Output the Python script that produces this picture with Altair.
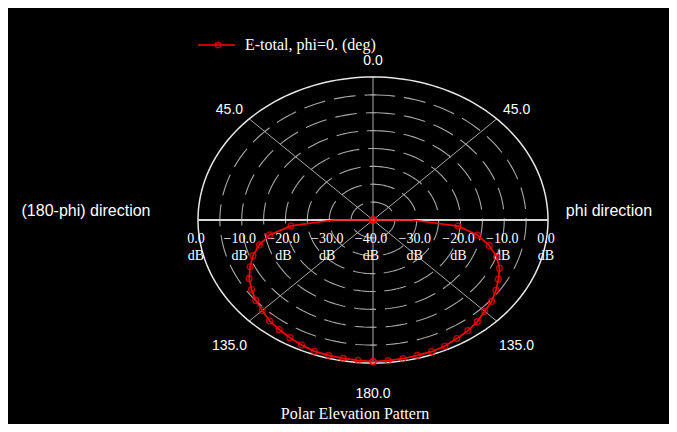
import altair as alt
import pandas as pd
import numpy as np

# ---------------- data ----------------
curve_theta = [0, 30, 60, 85, 90, 95, 100, 105, 110, 115, 120, 125, 130, 135,
               140, 145, 150, 155, 160, 165, 170, 175, 180]
right_db = [-40, -40, -40, -40, -31, -20.5, -15.8, -12.5, -9.9, -8.1, -6.9, -5.7,
            -4.6, -3.9, -2.9, -2.2, -1.7, -1.1, -0.8, -0.8, -0.6, -0.5, -0.4]
left_db = [-40, -40, -40, -40, -31, -21.2, -16.0, -13.1, -10.8, -9.0, -7.3, -6.1,
           -5.0, -4.2, -3.2, -2.6, -2.0, -1.4, -0.9, -0.8, -0.7, -0.6, -0.4]

db_floor = -40
ring_db = [-35, -30, -25, -20, -15, -10, -5, 0]
spoke_angles = [0, 45, 90, 135, 180, 225, 270, 315]

angle_label_theta = [0, 45, -45, 135, -135, 180]
angle_label_text = ["0.0", "45.0", "45.0", "135.0", "135.0", "180.0"]

db_label_value = [0, -10, -20, -30, -40, -30, -20, -10, 0]
db_label_side = [-1, -1, -1, -1, 0, 1, 1, 1, 1]

legend_label = ["E-total, phi=0. (deg)"]
title_text = ["Polar Elevation Pattern"]
left_dir_text = ["(180-phi) direction"]
right_dir_text = ["phi direction"]

# ---------------- tables ----------------
rows = []
n = len(curve_theta)
for i, (t, d) in enumerate(zip(curve_theta, right_db)):
    rows.append(dict(seq=i, theta=t, db=d, side=1))
for j, (t, d) in enumerate(reversed(list(zip(curve_theta, left_db)))):
    rows.append(dict(seq=n + j, theta=t, db=d, side=-1))
curve_df = pd.DataFrame(rows)

ring_angles = np.arange(0, 362, 2)
ring_df = pd.DataFrame([dict(level=l, ang=a) for l in ring_db for a in ring_angles])

spoke_df = pd.DataFrame([dict(ang=a, rr=rr) for a in spoke_angles for rr in (0.0, 1.0)])

cross_df = pd.DataFrame([dict(level=l, s=s) for l in ring_db for s in (1, -1)])

alabel_df = pd.DataFrame(dict(theta=angle_label_theta, label=angle_label_text))
dblabel_df = pd.DataFrame(dict(v=db_label_value, side=db_label_side))

GRID = "#a8a8a8"
RED = "#ff0000"

X = alt.X("x:Q", scale=alt.Scale(domain=[-2.08571, 1.69143], nice=False, zero=False), axis=None)
Y = alt.Y("y:Q", scale=alt.Scale(domain=[-1.42657, 1.48252], nice=False, zero=False), axis=None)

R_EXPR = f"(datum.level - ({db_floor})) / {-db_floor}"

rings = alt.Chart(ring_df).transform_calculate(
    r=R_EXPR
).transform_calculate(
    x="datum.r * sin(datum.ang * PI / 180)",
    y="datum.r * cos(datum.ang * PI / 180)",
)
rings_dashed = rings.transform_filter("datum.level < 0").mark_line(
    color=GRID, strokeWidth=1.1, strokeDash=[22, 9]
).encode(x=X, y=Y, detail="level:N", order="ang:Q")
ring_outer = rings.transform_filter("datum.level == 0").mark_line(
    color="#e6e6e6", strokeWidth=1.5
).encode(x=X, y=Y, detail="level:N", order="ang:Q")

spokes = alt.Chart(spoke_df).transform_calculate(
    x="datum.rr * sin(datum.ang * PI / 180)",
    y="datum.rr * cos(datum.ang * PI / 180)",
)
spokes_grey = spokes.transform_filter("datum.ang != 90 && datum.ang != 270").mark_line(
    color=GRID, strokeWidth=1
).encode(x=X, y=Y, detail="ang:N", order="rr:Q")
spokes_horiz = spokes.transform_filter("datum.ang == 90 || datum.ang == 270").mark_line(
    color="#d8d8d8", strokeWidth=2
).encode(x=X, y=Y, detail="ang:N", order="rr:Q")

crossbars = alt.Chart(cross_df).transform_calculate(
    r=R_EXPR
).transform_calculate(
    x="0", y="datum.s * datum.r"
).mark_point(shape="M-1,0L1,0", size=30, color=GRID, strokeWidth=1, filled=False).encode(x=X, y=Y)

curve = alt.Chart(curve_df).transform_calculate(
    r=f"(datum.db - ({db_floor})) / {-db_floor}"
).transform_calculate(
    x="datum.side * datum.r * sin(datum.theta * PI / 180)",
    y="datum.r * cos(datum.theta * PI / 180)",
)
curve_line = curve.mark_line(color=RED, strokeWidth=1.7).encode(x=X, y=Y, order="seq:Q")
curve_pts = curve.transform_filter("datum.theta != 90").mark_point(
    shape="circle", size=34, color=RED, strokeWidth=1.4, filled=False
).encode(x=X, y=Y)

alabels = alt.Chart(alabel_df).transform_calculate(
    x="datum.theta == 0 || datum.theta == 180 ? 0 : 1.16 * sin(datum.theta * PI / 180)",
    y="datum.theta == 0 ? 1.11 : (datum.theta == 180 ? -1.22 : (abs(datum.theta) <= 90 ? 1.09 * 0.7071 : -1.245 * 0.7071))",
).mark_text(font="Liberation Sans", fontSize=14, color="white", align="center", baseline="middle").encode(
    x=X, y=Y, text="label:N"
)

dbl = alt.Chart(dblabel_df).transform_calculate(
    x=f"datum.side * (datum.v - ({db_floor})) / {-db_floor}",
    y="0",
    txt="format(datum.v, '.1f')",
)
dbl_num = dbl.mark_text(font="Liberation Serif", fontSize=14, color="white", align="center",
                        baseline="middle", dy=19, dx=-2).encode(x=X, y=Y, text="txt:N")
dbl_unit = dbl.mark_text(font="Liberation Serif", fontSize=14, color="white", align="center",
                         baseline="middle", dy=36, dx=-2).encode(x=X, y=Y, text=alt.value("dB"))

one = alt.Data(values=[{"k": 0}])
legend_line = alt.Chart(one).mark_rule(color=RED, strokeWidth=1.6).encode(
    x=alt.value(190), x2=alt.value(227), y=alt.value(37))
legend_pt = alt.Chart(one).mark_point(shape="circle", size=30, color=RED, strokeWidth=1.3,
                                      filled=False).encode(x=alt.value(210), y=alt.value(37))
legend_txt = alt.Chart(pd.DataFrame(dict(t=legend_label))).mark_text(
    font="Liberation Serif", fontSize=16, color="white", align="left", baseline="middle"
).encode(x=alt.value(237), y=alt.value(37), text="t:N")

title_mark = alt.Chart(pd.DataFrame(dict(t=title_text))).mark_text(
    font="Liberation Serif", fontSize=16, color="white", align="center", baseline="middle"
).encode(x=alt.value(347), y=alt.value(406), text="t:N")

left_dir = alt.Chart(pd.DataFrame(dict(t=left_dir_text))).mark_text(
    font="Liberation Sans", fontSize=16, color="white", align="center", baseline="middle"
).encode(x=alt.value(78), y=alt.value(203), text="t:N")
right_dir = alt.Chart(pd.DataFrame(dict(t=right_dir_text))).mark_text(
    font="Liberation Sans", fontSize=16, color="white", align="center", baseline="middle"
).encode(x=alt.value(601), y=alt.value(203), text="t:N")

chart = alt.layer(
    rings_dashed, spokes_grey, crossbars, ring_outer, spokes_horiz,
    alabels, dbl_num, dbl_unit,
    curve_line, curve_pts,
    legend_line, legend_pt, legend_txt, title_mark, left_dir, right_dir,
).properties(
    width=661, height=416, padding=0, autosize=alt.AutoSizeParams(type="none"),
    background="black",
).configure_view(stroke=None)

chart.save("out.html", embed_options={"renderer": "svg", "actions": False})
